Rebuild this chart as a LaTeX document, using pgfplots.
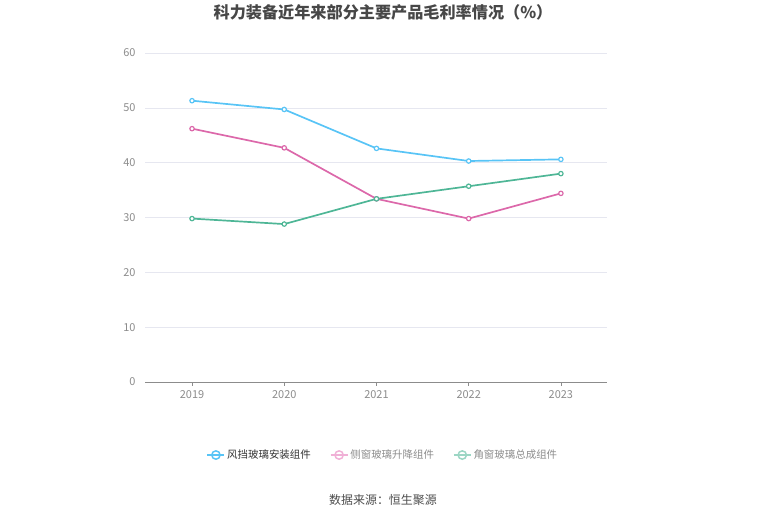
\documentclass[border=0pt]{standalone}
\usepackage{pgfplots}
\pgfplotsset{compat=1.18}
\usepackage{fontspec}
\setmainfont{Noto Sans CJK SC}
\definecolor{cblue}{RGB}{88,196,246}
\definecolor{cpink}{RGB}{220,104,170}
\definecolor{cgreen}{RGB}{78,182,150}
\definecolor{lpink}{RGB}{240,176,214}
\definecolor{lgreen}{RGB}{156,214,196}
\definecolor{gridc}{RGB}{230,231,240}
\definecolor{tickc}{RGB}{140,140,140}
\begin{document}
\begin{tikzpicture}[x=1bp,y=1bp]
\path[use as bounding box] (0,0) rectangle (765,517);
\node[font=\fontsize{16.2}{19}\selectfont\bfseries, text=black!72] at (383,505) {科力装备近年来部分主要产品毛利率情况（\%）};
\node[font=\fontsize{12}{14}\selectfont, text=black!70] at (383,17) {数据来源：恒生聚源};
\begin{axis}[
  at={(145bp,135bp)}, anchor=south west,
  width=462bp, height=329bp, scale only axis,
  xmin=-0.51, xmax=4.5, ymin=0, ymax=60,
  xtick={0,1,2,3,4}, xticklabels={2019,2020,2021,2022,2023},
  ytick={0,10,20,30,40,50,60},
  axis y line=left, axis x line=bottom,
  y axis line style={draw=none}, x axis line style={draw=black!45, line width=0.9pt, -},
  ymajorgrids, major grid style={gridc, line width=0.6pt},
  xtick style={draw=black!45, line width=0.6pt}, ytick style={draw=none},
  major tick length=4bp, xtick pos=bottom,
  tick align=outside,
  tick label style={font=\fontsize{11}{13}\selectfont, text=tickc},
  /pgf/number format/assume math mode=true,
  yticklabel style={xshift=-2bp},
  xticklabel style={yshift=-1bp},
  legend style={at={(0.515,-0.222)}, anchor=center, draw=none, fill=none,
    legend columns=3, font=\fontsize{10.5}{12}\selectfont,
    /tikz/every even column/.append style={column sep=17bp}},
  legend cell align=left,
]
\addlegendimage{cblue, line width=1.5pt, mark=o, mark size=4.2pt, mark options={fill=white, line width=1.5pt}}
\addlegendentry{\textcolor{black!80}{风挡玻璃安装组件}}
\addlegendimage{lpink, line width=1.5pt, mark=o, mark size=4.2pt, mark options={fill=white, line width=1.5pt}}
\addlegendentry{\textcolor{black!45}{侧窗玻璃升降组件}}
\addlegendimage{lgreen, line width=1.5pt, mark=o, mark size=4.2pt, mark options={fill=white, line width=1.5pt}}
\addlegendentry{\textcolor{black!45}{角窗玻璃总成组件}}
\addplot[cblue, line width=1.7pt, forget plot, mark=*, mark size=2.2pt, mark options={fill=white, draw=cblue, line width=1.2pt}] coordinates {(0,51.3) (1,49.7) (2,42.6) (3,40.3) (4,40.6)};
\addplot[cpink, line width=1.7pt, forget plot, mark=*, mark size=2.2pt, mark options={fill=white, draw=cpink, line width=1.2pt}] coordinates {(0,46.2) (1,42.7) (2,33.4) (3,29.8) (4,34.4)};
\addplot[cgreen, line width=1.7pt, forget plot, mark=*, mark size=2.2pt, mark options={fill=white, draw=cgreen, line width=1.2pt}] coordinates {(0,29.8) (1,28.8) (2,33.4) (3,35.7) (4,38.0)};
\end{axis}
\end{tikzpicture}
\end{document}
